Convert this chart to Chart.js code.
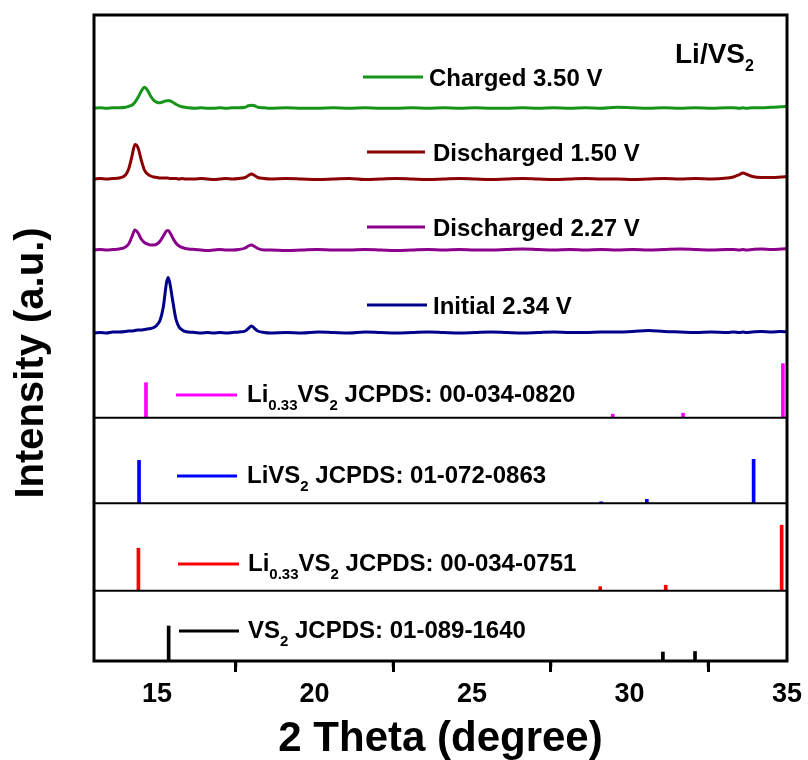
<!DOCTYPE html>
<html>
<head>
<meta charset="utf-8">
<script src="https://cdn.jsdelivr.net/npm/chart.js@4.4.1/dist/chart.umd.min.js"></script>
<style>
  body { margin: 0; background: #fff; }
</style>
</head>
<body>
<canvas id="xrd" width="808" height="760"></canvas>
<script>
// 2 theta positions (degree) shared by the measured patterns
const theta = [
  13.0, 13.2, 13.4, 13.6, 13.8, 14.0,
  14.1, 14.2, 14.3, 14.4, 14.5, 14.6, 14.7, 14.8, 14.9, 15.0, 15.1, 15.2, 15.3, 15.35, 15.4, 15.5, 15.6, 15.7, 15.8, 15.9, 16.0,
  16.2, 16.4, 16.6, 16.8, 17.0, 17.2, 17.4, 17.6,
  17.8, 17.9, 18.0, 18.1, 18.2, 18.4,
  18.6, 19.1, 19.6, 20.1, 20.6, 21.1, 21.6, 22.1, 22.6, 23.1, 23.6, 24.1, 24.6, 25.1, 25.6,
  26.1, 26.6, 27.1, 27.6, 28.1, 28.6, 29.1, 29.6, 30.1, 30.6, 31.1, 31.6, 32.1, 32.6, 33.1,
  33.3, 33.5, 33.6, 33.7, 33.9, 34.2, 34.5, 34.8, 35.0
];

// measured intensities (a.u.), relative to each pattern's own baseline
const initial234 = [
  0, 0.5, 0, 1, 1, 1.5,
  2, 2, 2.5, 3, 3, 3.5, 4, 4.5, 5.5, 8, 13, 26, 50, 55.5, 51, 32, 14, 6, 3, 1.5, 1,
  0.5, 0, 0.5, 0, 0.5, 0, 0.5, 1,
  2, 4.5, 7, 4.5, 2, 0.5,
  0, 0.5, 0, 1, 0.5, 0, 1, 0.5, 0, 0.5, 1, 0.5, 0, 0.5, 1,
  0.5, 0, 0.5, 1, 0.5, 0.5, 1, 1, 1.5, 2.5, 1.5, 1, 0.5, 1, 0.5,
  1, 0.5, 1, 0.5, 1, 1.5, 1, 1.5, 1
];
const discharged227 = [
  0, 0.5, 0, 0.5, 1, 3,
  6, 13, 20, 17, 11, 7.5, 6, 5, 5, 6, 9, 14, 19, 19.5, 18, 12, 7, 4, 2.5, 1.5, 1,
  0.5, 0, -0.5, 0, 0.5, 0, 0, 0.5,
  2, 4, 5, 3.5, 1.5, 0,
  0, -0.5, 0, 0.5, 0, 0, 0.5, 0, -0.5, 0, 0.5, 0, 0.5, 0, 0,
  0.5, 1, 0.5, 0, 0.5, 0, 0.5, 0, 0.5, 0, 0.5, 1, 0.5, 0, 0.5,
  0.5, 0, 0.5, 0, 0.5, 1, 0.5, 1, 1.5
];
const discharged150 = [
  0, 0.5, 0, 0.5, 1, 4,
  10, 22, 34.5, 31, 19, 9, 5, 3, 2, 1.5, 1, 1, 1, 1, 0.5, 0.5, 0.5, 0, 0.5, 0, 0,
  0, 0.5, 0, -0.5, 0, 0.5, 0, 0.5,
  1.5, 3.5, 5, 3.5, 1.5, 0.5,
  0, 0.5, 0, -0.5, 0, 0.5, -0.5, 0, 0.5, 0, -0.5, 0, 0.5, 0, -0.5,
  0, 0.5, 0, -0.5, 0, 0.5, 0, 0, -0.5, 0, 0.5, 0, 0.5, 0, 1,
  2, 4.5, 6, 5, 2.5, 1.5, 1.5, 2, 2.5
];
const charged350 = [
  0, 0.5, 0, 0.5, 0.5, 1,
  2, 3, 6, 11, 17, 21, 18, 12, 8, 6, 5.5, 6.5, 7.5, 7.5, 7.5, 6, 4, 2.5, 1.5, 1, 0.5,
  0, 0.5, 0, 0, 0.5, 0, 0.5, 0.5,
  1, 2.5, 3, 2.5, 1, 0.5,
  0, 0.5, 0, 0, 0.5, 0, 0.5, 0, 0, 0.5, 0, 0.5, 0, 0.5, 0,
  0, 0.5, 0, 0.5, 0, 0.5, 0, 1, 0.5, 0, 0.5, 0, 0.5, 0, 0.5,
  0.5, 0, 0.5, 0, 0.5, 0.5, 1, 1.5, 2
];
// vertical stacking offsets of the measured patterns
const curveOffsets = [328, 411, 482, 552.7];

// JCPDS reference lines: positions (degree) and relative intensities
const vs2Pos = [15.37, 31.06, 32.08];
const vs2Int = [35, 9, 9.5];
const li033aPos = [14.41, 29.07, 31.15, 34.83];   // 00-034-0751
const li033aInt = [42.5, 4, 5.5, 65.5];
const livs2Pos = [14.43, 29.1, 30.55, 33.94];      // 01-072-0863
const livs2Int = [43, 1.5, 4, 44];
const li033bPos = [14.65, 29.47, 31.7, 34.87];    // 00-034-0820
const li033bInt = [35, 3.5, 4.5, 54];
// baselines of the reference panels (bottom to top)
const panelBase = [0, 70.3, 157.7, 243.3];

const FONT = "'Liberation Sans', Arial, sans-serif";

const curve = (vals, off) => theta.map((t, i) => ({ x: t, y: vals[i] + off }));
const sticks = (pos, ints, base) => pos.map((p, i) => ({ x: p, y: [base, base + ints[i]] }));

const stickStyle = { type: 'bar', barThickness: 3, grouped: false, borderWidth: 0 };
const lineStyle = { type: 'line', pointRadius: 0, borderWidth: 3, fill: false, cubicInterpolationMode: 'monotone' };

// legend entries drawn inside the frame
const legendItems = [
  { color: '#17941a', x0: 363, x1: 423, y: 77, tx: 429, dy: 8.5, parts: [['Charged 3.50 V']] },
  { color: '#8b0000', x0: 367, x1: 425, y: 152, tx: 433, dy: 8.5, parts: [['Discharged 1.50 V']] },
  { color: '#8b008b', x0: 367, x1: 425, y: 227, tx: 433, dy: 8.5, parts: [['Discharged 2.27 V']] },
  { color: '#00008b', x0: 367, x1: 427, y: 305, tx: 433, dy: 8.5, parts: [['Initial 2.34 V']] },
  { color: '#ff00ff', x0: 176, x1: 237, y: 395, tx: 247, dy: 7, parts: [['Li'], ['0.33', 1], ['VS'], ['2', 1], [' JCPDS: 00-034-0820']] },
  { color: '#0000ff', x0: 177, x1: 237, y: 476, tx: 247, dy: 7, parts: [['LiVS'], ['2', 1], [' JCPDS: 01-072-0863']] },
  { color: '#ff0000', x0: 178, x1: 239, y: 564, tx: 248, dy: 7, parts: [['Li'], ['0.33', 1], ['VS'], ['2', 1], [' JCPDS: 00-034-0751']] },
  { color: '#000000', x0: 179, x1: 239, y: 631, tx: 248, dy: 7, parts: [['VS'], ['2', 1], [' JCPDS: 01-089-1640']] }
];

function richText(c, x, base, parts, size, subSize) {
  parts.forEach(([txt, sub]) => {
    c.font = 'bold ' + (sub ? subSize : size) + 'px ' + FONT;
    c.fillText(txt, x, sub ? base + 8 : base);
    x += c.measureText(txt).width;
  });
}

const decor = {
  id: 'decor',
  afterDraw(chart) {
    const c = chart.ctx;
    const a = chart.chartArea;
    const xs = chart.scales.x, ys = chart.scales.y;
    c.save();
    c.strokeStyle = '#000';
    // panel separators
    c.lineWidth = 2;
    panelBase.slice(1).forEach(v => {
      const py = ys.getPixelForValue(v);
      c.beginPath(); c.moveTo(a.left, py); c.lineTo(a.right, py); c.stroke();
    });
    // frame
    c.lineWidth = 3;
    c.strokeRect(a.left, a.top, a.right - a.left, a.bottom - a.top);
    // minor ticks
    [17.5, 22.5, 27.5, 32.5].forEach(v => {
      const px = xs.getPixelForValue(v);
      c.beginPath(); c.moveTo(px, a.bottom); c.lineTo(px, a.bottom + 6); c.stroke();
    });
    // legend
    c.fillStyle = '#000';
    c.textBaseline = 'alphabetic';
    c.textAlign = 'left';
    legendItems.forEach(it => {
      c.strokeStyle = it.color;
      c.lineWidth = 3;
      c.beginPath(); c.moveTo(it.x0, it.y); c.lineTo(it.x1, it.y); c.stroke();
      richText(c, it.tx, it.y + it.dy, it.parts, 24, 15);
    });
    // cell label
    richText(c, 675, 63, [['Li/VS'], ['2', 1]], 28, 16);
    // y title
    c.translate(42.5, 363);
    c.rotate(-Math.PI / 2);
    c.textAlign = 'center';
    c.font = 'bold 40px ' + FONT;
    c.fillText('Intensity (a.u.)', 0, 0);
    c.restore();
  }
};

const ctx = document.getElementById('xrd').getContext('2d');
const xrdChart = new Chart(ctx, {
  type: 'line',
  data: {
    datasets: [
      { ...stickStyle, label: 'VS2 JCPDS: 01-089-1640', data: sticks(vs2Pos, vs2Int, panelBase[0]), backgroundColor: '#000000' },
      { ...stickStyle, label: 'Li0.33VS2 JCPDS: 00-034-0751', data: sticks(li033aPos, li033aInt, panelBase[1]), backgroundColor: '#ff0000' },
      { ...stickStyle, label: 'LiVS2 JCPDS: 01-072-0863', data: sticks(livs2Pos, livs2Int, panelBase[2]), backgroundColor: '#0000ff' },
      { ...stickStyle, label: 'Li0.33VS2 JCPDS: 00-034-0820', data: sticks(li033bPos, li033bInt, panelBase[3]), backgroundColor: '#ff00ff' },
      { ...lineStyle, label: 'Initial 2.34 V', data: curve(initial234, curveOffsets[0]), borderColor: '#00008b' },
      { ...lineStyle, label: 'Discharged 2.27 V', data: curve(discharged227, curveOffsets[1]), borderColor: '#8b008b' },
      { ...lineStyle, label: 'Discharged 1.50 V', data: curve(discharged150, curveOffsets[2]), borderColor: '#8b0000' },
      { ...lineStyle, label: 'Charged 3.50 V', data: curve(charged350, curveOffsets[3]), borderColor: '#17941a' }
    ]
  },
  options: {
    responsive: false,
    animation: false,
    layout: { padding: { left: 94, right: 21, top: 15, bottom: 0 } },
    plugins: { legend: { display: false }, tooltip: { enabled: false } },
    scales: {
      x: {
        type: 'linear', min: 13, max: 35, offset: false,
        afterFit: s => { s.height = 99; s.paddingLeft = 0; s.paddingRight = 0; },
        ticks: { stepSize: 5, includeBounds: false, maxRotation: 0, color: '#000', padding: 9,
                 font: { family: FONT, size: 27, weight: 'bold', lineHeight: 1 } },
        grid: { drawOnChartArea: false, drawTicks: true, tickLength: 11, tickWidth: 3, tickColor: '#000' },
        border: { display: false },
        title: { display: true, text: '2 Theta (degree)', color: '#000', padding: { top: 10, bottom: 0 },
                 font: { family: FONT, size: 42, weight: 'bold', lineHeight: 1 } }
      },
      y: { type: 'linear', min: 0, max: 646, display: false }
    }
  },
  plugins: [decor]
});
</script>
</body>
</html>
